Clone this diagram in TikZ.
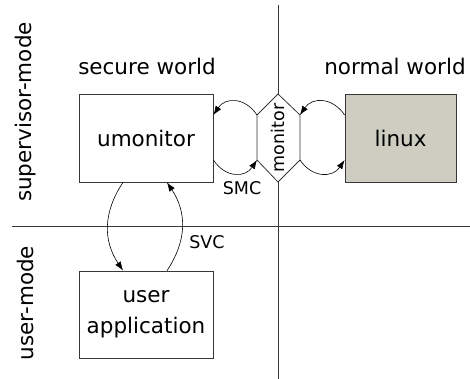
\documentclass[tikz,border=0pt]{standalone}
\usepackage{fontspec}
\setmainfont{DejaVu Sans}
\usetikzlibrary{arrows.meta}
\definecolor{linegray}{RGB}{55,55,55}
\definecolor{linuxfill}{RGB}{205,205,193}
\begin{document}
\begin{tikzpicture}[x=1pt,y=-1pt,
  bigtext/.style={font=\fontsize{21.5}{31}\selectfont},
  smalltext/.style={font=\fontsize{17.5}{21}\selectfont},
  box/.style={draw=linegray, line width=0.8pt, fill=white, bigtext, align=center,
    inner sep=0pt, minimum width=134pt, minimum height=88pt},
  divider/.style={draw=linegray, line width=0.8pt},
  flow/.style={draw=black, line width=0.6pt, -{Latex[length=9pt,width=6.5pt]}}]
\useasboundingbox (0,0) rectangle (470,379);

% quadrant dividers
\draw[divider] (278,5) -- (278,379);
\draw[divider] (12,226) -- (470,226);

% world and mode labels
\node[bigtext, inner sep=0pt] (secure) at (147,66) {secure world};
\node[bigtext, inner sep=0pt] (normal) at (395,66) {normal world};
\node[bigtext, inner sep=0pt, rotate=90] (supmode) at (25.5,112) {supervisor-mode};
\node[bigtext, inner sep=0pt, rotate=90] (usrmode) at (25.5,303) {user-mode};

% boxes
\node[box] (umon) at (146,138) {umonitor};
\node[box, fill=linuxfill, minimum width=111pt] (linux) at (400.5,138) {linux};
\node[box, minimum height=87pt] (app) at (146,314.5) {user\\application};

% monitor hexagon
\coordinate (mT) at (278,94);
\coordinate (mUL) at (257,115);
\coordinate (mLL) at (257,160);
\coordinate (mB) at (278,182);
\coordinate (mLR) at (300,160);
\coordinate (mUR) at (300,115);
\filldraw[draw=linegray, fill=white, line width=0.8pt]
  (mT) -- (mUL) -- (mLL) -- (mB) -- (mLR) -- (mUR) -- cycle;
\node[smalltext, inner sep=0pt, rotate=90] (mon) at (278,138) {monitor};

% secure world <-> monitor
\draw[flow] (mUL) .. controls +(-12,-18) and +(12,-18) .. ([yshift=23pt]umon.east);
\draw[flow] ([yshift=-22pt]umon.east) .. controls +(12,18) and +(-12,18) .. (mLL);
% normal world <-> monitor
\draw[flow] ([yshift=23pt]linux.west) .. controls +(-12,-18) and +(12,-18) .. (mUR);
\draw[flow] (mLR) .. controls +(12,18) and +(-12,18) .. ([yshift=-22pt]linux.west);
% supervisor <-> user mode
\draw[flow] ([xshift=-23pt]umon.south) .. controls +(-20,30) and +(-20,-30) .. ([xshift=-23pt]app.north);
\draw[flow] ([xshift=21pt]app.north) .. controls +(20,-30) and +(20,30) .. ([xshift=21pt]umon.south);

% call labels
\node[smalltext, inner sep=0pt] (smc) at (242,188) {SMC};
\node[smalltext, inner sep=0pt] (svc) at (207,242) {SVC};
\end{tikzpicture}
\end{document}
